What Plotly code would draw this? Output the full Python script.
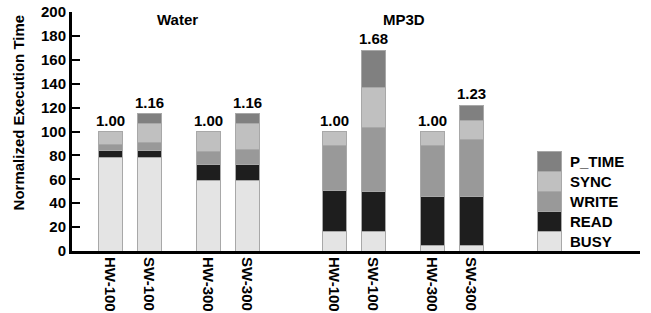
import plotly.graph_objects as go

# ---- data ----
bar_labels = ["HW-100", "SW-100", "HW-300", "SW-300", "HW-100", "SW-100", "HW-300", "SW-300"]
groups = ["Water", "MP3D"]
BUSY   = [78, 78, 59, 59, 16, 16, 5, 5]
READ   = [6, 6, 13, 13, 35, 34, 41, 41]
WRITE  = [5, 7, 11, 13, 37, 53, 42, 47]
SYNC   = [11, 16, 17, 22, 12, 34, 12, 16]
P_TIME = [0, 8, 0, 8, 0, 31, 0, 13]
ratio_labels = ["1.00", "1.16", "1.00", "1.16", "1.00", "1.68", "1.00", "1.23"]

series = [("BUSY", BUSY, "#e4e4e4"), ("READ", READ, "#1e1e1e"), ("WRITE", WRITE, "#999999"),
          ("SYNC", SYNC, "#c0c0c0"), ("P_TIME", P_TIME, "#808080")]

# ---- layout (pixel-like x units) ----
xpos = [38, 77, 136, 175, 262, 301, 360, 399]
legend_x = 477
swatch = 16.6
bar_w = 24
group_title_x = [105, 332]

FONT = "Arial, Liberation Sans, sans-serif"
fig = go.Figure()
for i, (name, vals, col) in enumerate(series):
    fig.add_trace(go.Bar(
        x=xpos + [legend_x],
        y=[v if v else None for v in vals] + [swatch],
        width=bar_w, name=name,
        marker=dict(color=col, line=dict(color="#a8a8a8", width=1)),
        showlegend=False, hoverinfo="skip"))

totals = [sum(s[1][k] for s in series) for k in range(len(xpos))]
ann = []
for k in range(len(xpos)):
    ann.append(dict(x=xpos[k], y=totals[k], text=ratio_labels[k], showarrow=False,
                    xref="x", yref="y", yanchor="bottom", yshift=1,
                    font=dict(family=FONT, size=15, color="black")))
for i, (name, vals, col) in enumerate(series):
    ann.append(dict(x=legend_x + 19, y=swatch * (i + 0.5), text=name, showarrow=False,
                    xref="x", yref="y", xanchor="left",
                    font=dict(family=FONT, size=15, color="black")))
for g, gx in zip(groups, group_title_x):
    ann.append(dict(x=gx, y=194, text=g, showarrow=False, xref="x", yref="y",
                    font=dict(family=FONT, size=15, color="black")))
ann.append(dict(x=-0.095, xref="paper", xanchor="center", y=116, yref="y",
                text="Normalized Execution Time", textangle=-90, showarrow=False,
                font=dict(family=FONT, size=15, color="black")))

fig.update_layout(
    barmode="stack", width=651, height=313,
    margin=dict(l=72, r=11, t=12, b=62),
    paper_bgcolor="white", plot_bgcolor="white",
    font=dict(family=FONT, size=15, color="black"),
    annotations=ann,
    xaxis=dict(range=[0, 568], tickvals=xpos, ticktext=[f"<b>{t}</b>" for t in bar_labels],
               tickangle=90, showline=True, linecolor="black", linewidth=3, automargin=False,
               showgrid=False, zeroline=False, ticks="", tickfont=dict(size=15)),
    yaxis=dict(range=[0, 200], showline=True, linecolor="black", linewidth=3, automargin=False,
               showgrid=False, zeroline=False, ticks="inside", ticklen=8, tickwidth=2,
               tickcolor="black", tickfont=dict(size=15),
               tickvals=list(range(0, 201, 20)),
               ticktext=[f"<b>{v}</b>" for v in range(0, 201, 20)]),
)
for a in fig.layout.annotations:
    a.text = f"<b>{a.text}</b>"
fig.write_html("out.html", config={"displayModeBar": False},
               post_script="document.body.style.margin='0';")
